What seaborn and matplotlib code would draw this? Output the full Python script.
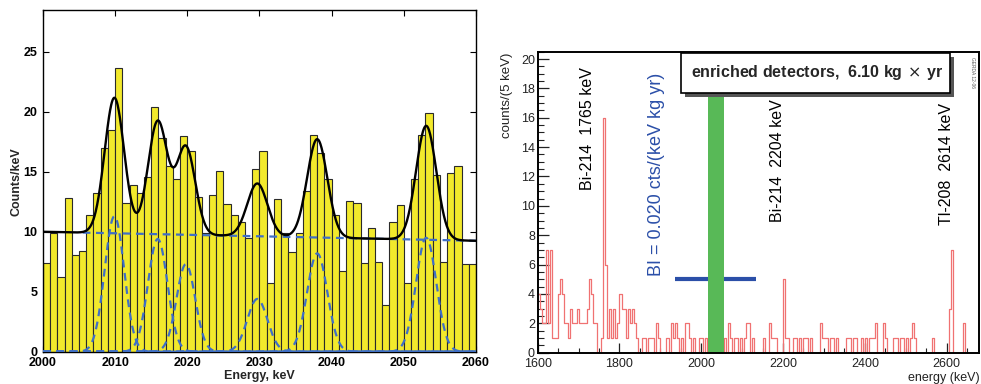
import numpy as np
import pandas as pd
import matplotlib
matplotlib.use("Agg")
import matplotlib.pyplot as plt
from matplotlib.patches import Rectangle
from matplotlib.ticker import MultipleLocator
import seaborn as sns

# ── left panel: counts per 1 keV bin, 2000..2060 keV ─────────────────────────
left_edges = list(range(2000, 2061, 1))
counts_per_kev = [
    7.4, 9.9, 6.2, 12.8, 8.1, 8.4, 11.4, 13.25, 17.0, 18.5,
    23.7, 12.4, 13.9, 13.2, 14.6, 20.4, 17.8, 15.5, 14.4, 18.0,
    16.7, 12.9, 9.9, 13.1, 15.1, 12.3, 11.4, 10.8, 9.5, 15.2,
    16.7, 5.7, 12.7, 9.9, 8.3, 9.9, 13.4, 18.1, 16.6, 14.4,
    11.4, 6.7, 12.6, 12.4, 7.4, 10.3, 7.5, 3.9, 10.8, 12.2,
    5.7, 14.4, 18.1, 19.9, 14.7, 7.5, 14.9, 15.5, 7.3, 7.3,
]
# fit components
peak_centers = [2009.9, 2015.9, 2019.8, 2029.7, 2038.0, 2053.1]
peak_amplitudes = [11.3, 9.4, 7.3, 4.4, 8.2, 9.5]
peak_sigmas = [1.35, 1.35, 1.3, 1.4, 1.4, 1.4]
bg_level = [10.0, 9.25]          # background at 2000 and 2060 keV
bg_dashed_start = 2005.5

# ── right panel: counts per 5 keV bin, 1600..2680 keV ────────────────────────
spectrum_edges = list(range(1600, 2681, 5))
counts_5kev = [
    4, 3, 2, 2, 7, 2, 7, 1, 1, 1, 4, 5, 4, 2, 2, 1, 3, 2, 2, 3,     # 1600
    2, 2, 2, 2, 3, 5, 4, 2, 2, 0, 0, 1, 16, 6, 1, 3, 1, 3, 1, 2,    # 1700
    4, 3, 3, 1, 3, 2, 3, 2, 1, 0, 0, 1, 1, 0, 1, 1, 1, 0, 2, 1,     # 1800
    0, 0, 0, 1, 0, 2, 1, 2, 1, 0, 1, 0, 2, 2, 1, 0, 1, 0, 0, 1,     # 1900
    1, 0, 1, 0, 0, 0, 0, 0, 0, 0, 0, 1, 0, 2, 1, 0, 1, 1, 0, 1,     # 2000
    0, 1, 2, 2, 0, 1, 0, 0, 0, 0, 1, 0, 0, 2, 1, 1, 1, 0, 0, 0,     # 2100
    5, 1, 1, 0, 0, 1, 1, 0, 1, 0, 1, 1, 0, 1, 0, 0, 0, 0, 2, 1,     # 2200
    1, 1, 0, 1, 1, 0, 1, 0, 0, 0, 0, 1, 1, 0, 1, 1, 0, 0, 1, 0,     # 2300
    1, 0, 1, 1, 1, 2, 0, 0, 0, 2, 1, 0, 0, 0, 1, 1, 0, 1, 1, 0,     # 2400
    1, 0, 1, 2, 1, 0, 0, 0, 0, 0, 0, 0, 0, 1, 0, 0, 0, 0, 0, 0,     # 2500
    0, 3, 7, 0, 0, 0, 0, 0, 2, 0, 0, 0, 0, 0, 0, 0,                 # 2600
]
blind_window = [2016, 2056]
bi_line = [1937, 2135, 5]
line_labels = [("Bi-214  1765 keV", 1723, 11.1),
               ("Bi-214  2204 keV", 2186, 8.9),
               ("Tl-208  2614 keV", 2600, 8.7)]

YELLOW = "#f2e92c"
FITBLUE = "#3f6fc6"
RED = "#f07272"
GREEN = "#58b957"
NAVY = "#2b4fa8"

sns.set_theme(style="ticks")
plt.rcParams["font.family"] = ["Liberation Sans", "DejaVu Sans"]

fig = plt.figure(figsize=(9.81, 3.84), dpi=100)

# ── left: fitted spectrum ────────────────────────────────────────────────────
ax = fig.add_axes([0.0438, 0.0841, 0.4414, 0.890])
left_df = pd.DataFrame({"energy": [e + 0.5 for e in left_edges[:-1]],
                        "counts": counts_per_kev})
sns.histplot(data=left_df, x="energy", weights="counts", bins=left_edges,
             color=YELLOW, edgecolor="#2a2a2a", linewidth=0.8, alpha=1,
             ax=ax, zorder=1)

xs = np.linspace(2000, 2060, 1201)
bg = bg_level[0] + (bg_level[1] - bg_level[0]) * (xs - 2000) / 60
total = bg.copy()
for c, a, s in zip(peak_centers, peak_amplitudes, peak_sigmas):
    g = a * np.exp(-0.5 * ((xs - c) / s) ** 2)
    total += g
    sns.lineplot(x=xs, y=g, color=FITBLUE, lw=1.6, linestyle=(0, (3.5, 2.5)),
                 ax=ax, zorder=3)
keep = xs >= bg_dashed_start
sns.lineplot(x=xs[keep], y=bg[keep], color=FITBLUE, lw=1.6,
             linestyle=(0, (3.5, 2.5)), ax=ax, zorder=3)
sns.lineplot(x=xs, y=total, color="black", lw=1.7, ax=ax, zorder=4)

ax.set_xlim(2000, 2060)
ax.set_ylim(0, 28.5)
ax.set_xticks(range(2000, 2061, 10))
ax.set_yticks(range(0, 26, 5))
ax.tick_params(direction="in", top=True, right=True, length=4, width=0.8,
               labelsize=9, colors="black")
ax.tick_params(axis="x", pad=4)
ax.tick_params(axis="y", pad=4)
for lab in ax.get_xticklabels() + ax.get_yticklabels():
    lab.set_fontweight("bold")
ax.set_xlabel("")
ax.set_ylabel("")
ax.text(-0.062, 0.497, "Counts/keV", transform=ax.transAxes, rotation=90,
        ha="center", va="center", fontsize=9, fontweight="bold")
ax.text(0.5, -0.071, "Energy, keV", transform=ax.transAxes,
        ha="center", va="center", fontsize=9, fontweight="bold")
for sp in ax.spines.values():
    sp.set_linewidth(1.0)
    sp.set_color("black")

# ── right: GERDA spectrum ────────────────────────────────────────────────────
ax2 = fig.add_axes([0.5481, 0.0815, 0.4502, 0.7839])
right_df = pd.DataFrame({"energy": [e + 2.5 for e in spectrum_edges[:-1]],
                         "counts": counts_5kev})
sns.histplot(data=right_df, x="energy", weights="counts", bins=spectrum_edges,
             element="step", fill=False, color=RED, linewidth=0.9, ax=ax2,
             zorder=2)
ax2.hlines(bi_line[2], bi_line[0], bi_line[1], color=NAVY, lw=3, zorder=3)
ax2.axvspan(blind_window[0], blind_window[1], color=GREEN, lw=0, zorder=4)

ax2.set_xlim(1600, 2680)
ax2.set_ylim(0, 20.5)
ax2.set_xticks(range(1600, 2601, 200))
ax2.xaxis.set_minor_locator(MultipleLocator(50))
ax2.set_yticks(range(0, 21, 2))
ax2.yaxis.set_minor_locator(MultipleLocator(0.5))
ax2.tick_params(axis="x", which="major", direction="in", length=7, width=0.9,
                labelsize=9, pad=4, colors="#222222")
ax2.tick_params(axis="x", which="minor", direction="in", length=3.5, width=0.8,
                colors="#222222")
ax2.tick_params(axis="y", which="major", direction="in", length=8, width=0.9,
                labelsize=9, pad=2, colors="#222222")
ax2.tick_params(axis="y", which="minor", direction="in", length=4, width=0.8,
                colors="#222222")
ax2.set_xlabel("")
ax2.set_ylabel("")
for sp in ax2.spines.values():
    sp.set_linewidth(1.4)
    sp.set_color("black")
    sp.set_zorder(6)

ax2.text(-0.070, 0.996, "counts/(5 keV)", transform=ax2.transAxes, rotation=90,
         ha="center", va="top", fontsize=9.5, color="#222222")
ax2.text(1.0, -0.084, "energy (keV)", transform=ax2.transAxes,
         ha="right", va="center", fontsize=9, color="#222222")

for txt, xk, yk in line_labels:
    ax2.text(xk, yk, txt, rotation=90, ha="center", va="bottom",
             fontsize=11.5, color="black", zorder=5)
ax2.text(1890, 5.2, "BI = 0.020 cts/(keV kg yr)", rotation=90, ha="center",
         va="bottom", fontsize=13, color=NAVY, zorder=5)

# legend-like box with shadow
bx0, bx1, by0, by1 = 0.3245, 0.9337, 0.8628, 0.9957
shadow = Rectangle((bx0 + 0.008, by0 - 0.012), bx1 - bx0, by1 - by0,
                   transform=ax2.transAxes, facecolor="#555555",
                   edgecolor="none", zorder=7, clip_on=False)
box = Rectangle((bx0, by0), bx1 - bx0, by1 - by0, transform=ax2.transAxes,
                facecolor="white", edgecolor="black", lw=1.2, zorder=8,
                clip_on=False)
ax2.add_patch(shadow)
ax2.add_patch(box)
ax2.text((bx0 + bx1) / 2 + 0.005, (by0 + by1) / 2,
         r"enriched detectors,  6.10 kg$\,\times\,$yr", transform=ax2.transAxes,
         ha="center", va="center", fontsize=11.5, fontweight="bold", zorder=9)
ax2.text(0.985, 0.93, "GERDA 12-06", transform=ax2.transAxes, rotation=270,
         ha="center", va="center", fontsize=3.5, color="#555555", zorder=9)

fig.savefig("out.png", dpi=100)
